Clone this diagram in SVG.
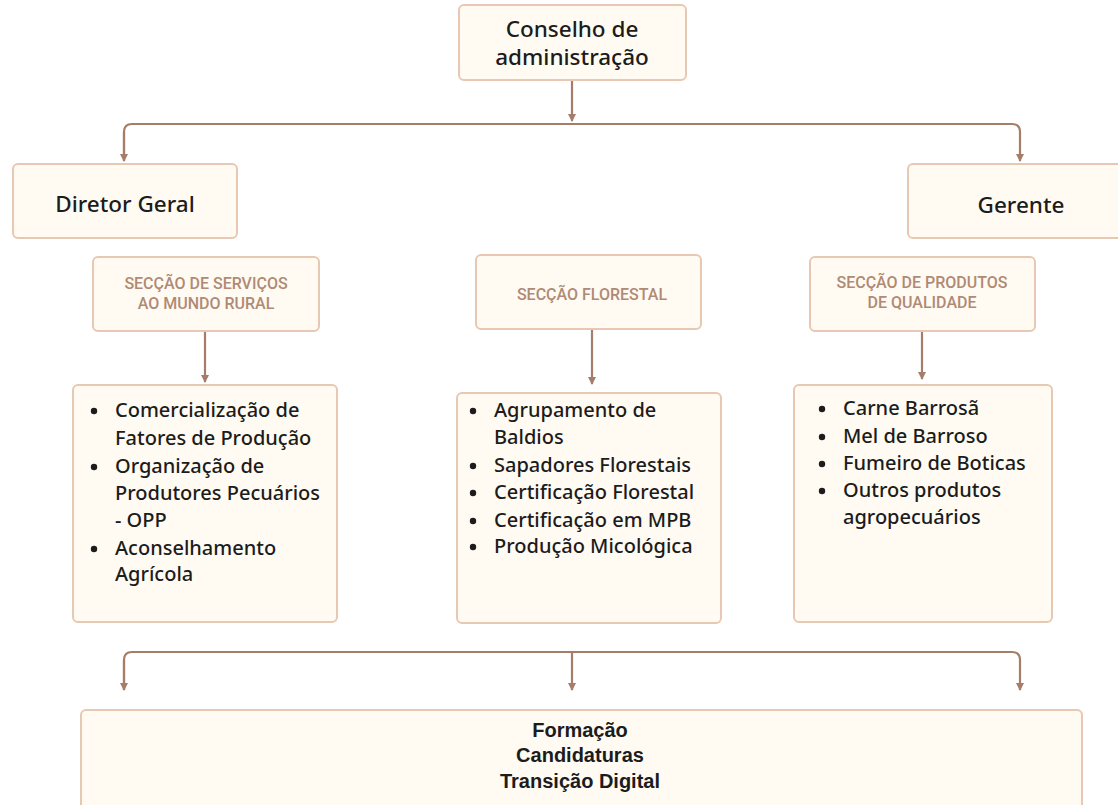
<svg xmlns="http://www.w3.org/2000/svg" width="1118" height="805" viewBox="0 0 1118 805">
<style>
.box{fill:#fffbf3;stroke:#e8c8b2;stroke-width:2}
.t{font-family:"Noto Sans","Open Sans",sans-serif;fill:#1c1c1c;font-weight:500}
.h{font-size:22.5px;text-anchor:middle}
.s{font-family:Roboto,"Liberation Sans",Arial,sans-serif;font-weight:500;font-size:16px;fill:#b08a74;text-anchor:middle}
.l{font-size:20px}
.bu{fill:#1c1c1c}
.b{font-family:"Liberation Sans",Arial,sans-serif;font-weight:bold;font-size:20px;fill:#1c1c1c;text-anchor:middle}
.c{fill:none;stroke:#a57d6b;stroke-width:2.2}
</style>
<defs>
<marker id="ar" viewBox="0 0 8 8" refX="7" refY="4" markerWidth="8" markerHeight="8" markerUnits="userSpaceOnUse" orient="auto">
<path d="M0,0 L8,4 L0,8 Z" fill="#a57d6b"/>
</marker>
</defs>
<g id="connectors">
<path class="c" d="M572,80 V121" marker-end="url(#ar)"/>
<path class="c" d="M124,161 V132 Q124,124 132,124 H1012 Q1020,124 1020,132 V161" marker-end="url(#ar)"/>
<path class="c" d="M124,132 V161" marker-end="url(#ar)"/>
<path class="c" d="M205,331 V382" marker-end="url(#ar)"/>
<path class="c" d="M592,329 V384" marker-end="url(#ar)"/>
<path class="c" d="M922,331 V379" marker-end="url(#ar)"/>
<path class="c" d="M124,690 V660 Q124,652 132,652 H1012 Q1020,652 1020,660 V690" marker-end="url(#ar)"/>
<path class="c" d="M124,660 V690" marker-end="url(#ar)"/>
<path class="c" d="M572,652 V690" marker-end="url(#ar)"/>
</g>
<g id="conselho">
<rect class="box" x="459" y="5" width="227" height="75" rx="5"/>
<text class="t h" x="572" y="37">Conselho de</text>
<text class="t h" x="572" y="65">administração</text>
</g>
<g id="diretor">
<rect class="box" x="13" y="164" width="224" height="74" rx="5"/>
<text class="t h" x="125" y="212">Diretor Geral</text>
</g>
<g id="gerente">
<rect class="box" x="908" y="164" width="214" height="74" rx="5"/>
<text class="t h" x="1021" y="213">Gerente</text>
</g>
<g id="sec-servicos">
<rect class="box" x="93" y="257" width="226" height="74" rx="5"/>
<text class="s" x="206" y="289">SECÇÃO DE SERVIÇOS</text>
<text class="s" x="206" y="309">AO MUNDO RURAL</text>
</g>
<g id="sec-florestal">
<rect class="box" x="476" y="255" width="225" height="74" rx="5"/>
<text class="s" x="592" y="300">SECÇÃO FLORESTAL</text>
</g>
<g id="sec-produtos">
<rect class="box" x="810" y="257" width="225" height="74" rx="5"/>
<text class="s" x="922" y="288">SECÇÃO DE PRODUTOS</text>
<text class="s" x="922" y="308">DE QUALIDADE</text>
</g>
<g id="lista-servicos">
<rect class="box" x="73" y="385" width="264" height="237" rx="5"/>
<g class="bu">
<circle cx="94" cy="411" r="3.2"/>
<circle cx="94" cy="467" r="3.2"/>
<circle cx="94" cy="549" r="3.2"/>
</g>
<g class="t l">
<text x="115" y="417">Comercialização de</text>
<text x="115" y="445">Fatores de Produção</text>
<text x="115" y="473">Organização de</text>
<text x="115" y="500">Produtores Pecuários</text>
<text x="115" y="527">- OPP</text>
<text x="115" y="555">Aconselhamento</text>
<text x="115" y="581">Agrícola</text>
</g>
</g>
<g id="lista-florestal">
<rect class="box" x="457" y="393" width="264" height="230" rx="5"/>
<g class="bu">
<circle cx="473" cy="411" r="3.2"/>
<circle cx="473" cy="466" r="3.2"/>
<circle cx="473" cy="493" r="3.2"/>
<circle cx="473" cy="521" r="3.2"/>
<circle cx="473" cy="547" r="3.2"/>
</g>
<g class="t l">
<text x="494" y="417">Agrupamento de</text>
<text x="494" y="444">Baldios</text>
<text x="494" y="472">Sapadores Florestais</text>
<text x="494" y="499">Certificação Florestal</text>
<text x="494" y="527">Certificação em MPB</text>
<text x="494" y="553">Produção Micológica</text>
</g>
</g>
<g id="lista-produtos">
<rect class="box" x="794" y="385" width="258" height="237" rx="5"/>
<g class="bu">
<circle cx="822" cy="409" r="3.2"/>
<circle cx="822" cy="437" r="3.2"/>
<circle cx="822" cy="464" r="3.2"/>
<circle cx="822" cy="491" r="3.2"/>
</g>
<g class="t l">
<text x="843" y="415">Carne Barrosã</text>
<text x="843" y="443">Mel de Barroso</text>
<text x="843" y="470">Fumeiro de Boticas</text>
<text x="843" y="497">Outros produtos</text>
<text x="843" y="524">agropecuários</text>
</g>
</g>
<g id="transversal">
<rect class="box" x="81" y="710" width="1001" height="110" rx="5"/>
<text class="b" x="580" y="737">Formação</text>
<text class="b" x="580" y="762">Candidaturas</text>
<text class="b" x="580" y="788">Transição Digital</text>
</g>
</svg>
